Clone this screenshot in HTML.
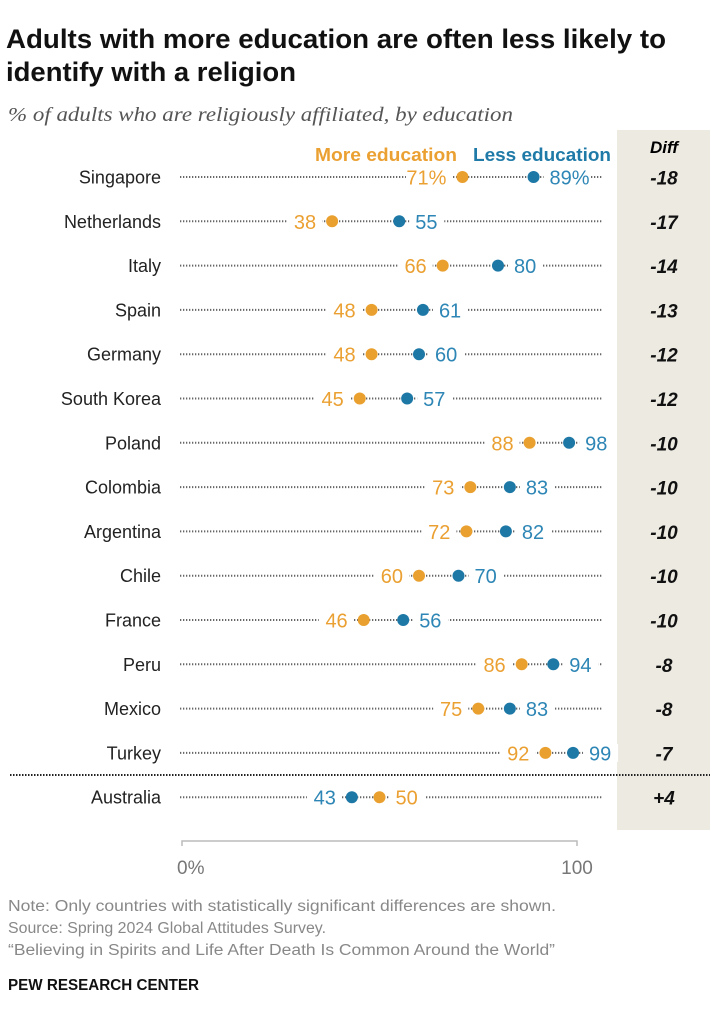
<!DOCTYPE html>
<html><head><meta charset="utf-8"><style>
body{margin:0;background:#fff;font-family:"Liberation Sans",sans-serif;}
svg text{font-family:"Liberation Sans",sans-serif;}
</style></head><body>
<svg width="723" height="1023" viewBox="0 0 723 1023">
<text x="6" y="48" font-size="26.5" font-weight="bold" fill="#111" textLength="660" lengthAdjust="spacingAndGlyphs">Adults with more education are often less likely to</text>
<text x="6" y="81" font-size="26.5" font-weight="bold" fill="#111" textLength="290" lengthAdjust="spacingAndGlyphs">identify with a religion</text>
<text x="8" y="121" font-size="20" font-style="italic" fill="#555" style="font-family:'Liberation Serif',serif" textLength="505" lengthAdjust="spacingAndGlyphs">% of adults who are religiously affiliated, by education</text>
<rect x="617" y="130" width="93" height="700" fill="#EDEAE2"/>
<text x="664" y="153" font-size="17" font-weight="bold" font-style="italic" text-anchor="middle">Diff</text>
<text x="457" y="161" font-size="18" font-weight="bold" fill="#EBA032" text-anchor="end" textLength="142" lengthAdjust="spacingAndGlyphs">More education</text>
<text x="611" y="161" font-size="18" font-weight="bold" fill="#1F7AA8" text-anchor="end" textLength="138" lengthAdjust="spacingAndGlyphs">Less education</text>
<line x1="10" y1="775" x2="710" y2="775" stroke="#222" stroke-width="2" stroke-dasharray="1.5,1.5"/>
<path d="M182,846 V841 H577 V846" fill="none" stroke="#bbb" stroke-width="1.5"/>
<text x="177" y="874" font-size="19" fill="#777" text-anchor="start">0%</text>
<text x="577" y="874" font-size="19" fill="#777" text-anchor="middle">100</text>
<g id="rows"></g>
<text x="8" y="911" font-size="15.5" fill="#888" textLength="548" lengthAdjust="spacingAndGlyphs">Note: Only countries with statistically significant differences are shown.</text>
<text x="8" y="933" font-size="15.5" fill="#888" textLength="318" lengthAdjust="spacingAndGlyphs">Source: Spring 2024 Global Attitudes Survey.</text>
<text x="8" y="955" font-size="15.5" fill="#888" textLength="547" lengthAdjust="spacingAndGlyphs">“Believing in Spirits and Life After Death Is Common Around the World”</text>
<text x="8" y="990" font-size="15.5" font-weight="bold" fill="#111" textLength="191" lengthAdjust="spacingAndGlyphs">PEW RESEARCH CENTER</text>
</svg>
<script>
const countries=["Singapore","Netherlands","Italy","Spain","Germany","South Korea","Poland","Colombia","Argentina","Chile","France","Peru","Mexico","Turkey","Australia"];
const moreEdu=[71,38,66,48,48,45,88,73,72,60,46,86,75,92,50];
const lessEdu=[89,55,80,61,60,57,98,83,82,70,56,94,83,99,43];
const diffs=["-18","-17","-14","-13","-12","-12","-10","-10","-10","-10","-10","-8","-8","-7","+4"];
const NS="http://www.w3.org/2000/svg";
const X=v=>182+v*3.95;
const Y=i=>177+i*44.3;
const g=document.getElementById("rows");
function mk(t,a,p){const e=document.createElementNS(NS,t);for(const k in a)e.setAttribute(k,a[k]);(p||g).appendChild(e);return e;}
countries.forEach((c,i)=>{
  const y=Y(i);
  const row=mk("g",{});
  
  
  const lab=mk("text",{x:161,y:y+6.5,"font-size":18,"text-anchor":"end",fill:"#222"},row);lab.textContent=c;
  
  
  const ln=mk("line",{x1:180,y1:y,x2:603,y2:y,stroke:"#666","stroke-width":2,"stroke-dasharray":"1.3,1.7"},row);
  
  
  const m=moreEdu[i],l=lessEdu[i];
  const lo=Math.min(m,l),hi=Math.max(m,l);
  const loCol=m<l?"#EBA032":"#2D86B5",hiCol=m<l?"#2D86B5":"#EBA032";
  const suf=i===0?"%":"";
  const loTxt=lo+suf,hiTxt=hi+suf;
  const wLo=loTxt.length*11.5+12,wHi=hiTxt.length*11.5+12;
  const r1=mk("rect",{x:X(lo)-10-wLo,y:y-9,width:wLo,height:18,fill:"#fff"},row);
  
  
  const r2=mk("rect",{x:X(hi)+10,y:y-9,width:wHi,height:18,fill:"#fff"},row);
  
  
  const t1=mk("text",{x:X(lo)-16,y:y+7.5,"font-size":20,"text-anchor":"end",fill:loCol},row);t1.textContent=loTxt;
  
  
  const t2=mk("text",{x:X(hi)+16,y:y+7.5,"font-size":20,"text-anchor":"start",fill:hiCol},row);t2.textContent=hiTxt;
  
  
  const d1=mk("circle",{cx:X(m),cy:y,r:6,fill:"#E9A02F"},row);
  
  
  const d2=mk("circle",{cx:X(l),cy:y,r:6,fill:"#1D78A6"},row);
  
  
  const dt=mk("text",{x:664,y:y+7.5,"font-size":19,"font-weight":"bold","font-style":"italic","text-anchor":"middle",fill:"#111"},row);dt.textContent=diffs[i];
  
  
});
</script>
</body></html>
